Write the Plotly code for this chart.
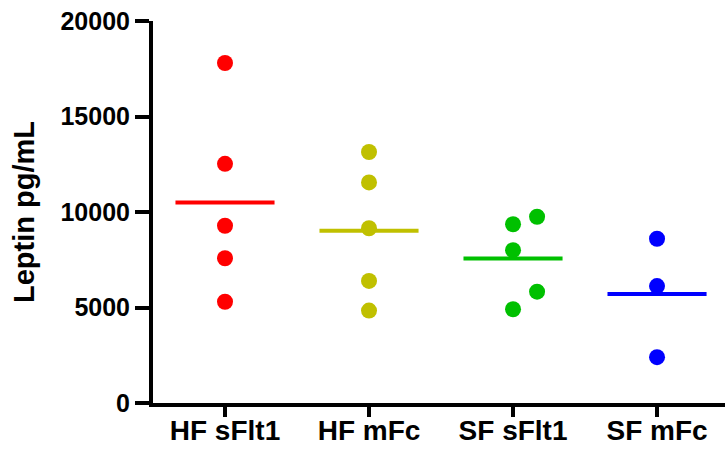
import numpy as np
import plotly.graph_objects as go

# ---- data ----
groups = ["HF sFlt1", "HF mFc", "SF sFlt1", "SF mFc"]
hf_sflt1 = [17800, 12520, 9280, 7580, 5300]
hf_mfc = [13140, 11550, 9150, 6390, 4840]
sf_sflt1 = [9750, 9360, 8000, 5830, 4910]
sf_mfc = [8600, 6120, 2400]
series = [hf_sflt1, hf_mfc, sf_sflt1, sf_mfc]
colors = ["#FF0000", "#C0C000", "#00C000", "#0000FF"]
y_ticks = [0, 5000, 10000, 15000, 20000]

FONT = "Arial, Liberation Sans, sans-serif"
DOT_SPAN = 1000        # vertical overlap threshold (data units) for dodging
DODGE = 0.167          # horizontal dodge in category units
HALF_LINE = 0.344      # half-width of the mean line


def dodge_positions(idx, vals):
    """GraphPad-like dodge: overlapping points move right."""
    order = np.argsort(vals)
    xs = np.full(len(vals), float(idx))
    last_center = None
    for k in order:
        v = vals[k]
        if last_center is not None and abs(v - last_center) < DOT_SPAN:
            xs[k] = idx + DODGE
        else:
            last_center = v
    return xs


fig = go.Figure()
for i, (vals, col) in enumerate(zip(series, colors)):
    vals = np.array(vals, dtype=float)
    xs = dodge_positions(i, vals)
    m = vals.mean()
    fig.add_trace(go.Scatter(
        x=[i - HALF_LINE, i + HALF_LINE], y=[m, m], mode="lines",
        line=dict(color=col, width=4), showlegend=False, hoverinfo="skip"))
    fig.add_trace(go.Scatter(
        x=xs, y=vals, mode="markers",
        marker=dict(color=col, size=16, line=dict(width=0)),
        showlegend=False, name=groups[i]))

fig.update_layout(
    width=725, height=449,
    margin=dict(l=153, r=0, t=21, b=46, pad=0),
    paper_bgcolor="white", plot_bgcolor="white",
    font=dict(family=FONT, color="black", weight="bold"),
)
fig.update_xaxes(
    range=[-0.5, 3.472], tickmode="array",
    tickvals=list(range(len(groups))), ticktext=groups,
    showgrid=False, zeroline=False, automargin=False,
    showline=True, linecolor="black", linewidth=4,
    ticks="outside", ticklen=10, tickwidth=4, tickcolor="black",
    ticklabelstandoff=-11,
    tickfont=dict(family=FONT, size=28, color="black", weight="bold"),
)
fig.update_yaxes(
    range=[0, 20000], tickmode="array", tickvals=y_ticks,
    ticktext=[str(v) for v in y_ticks],
    showgrid=False, zeroline=False, automargin=False,
    showline=True, linecolor="black", linewidth=4,
    ticks="outside", ticklen=14, tickwidth=4, tickcolor="black",
    tickfont=dict(family=FONT, size=25, color="black", weight="bold"),
    title=dict(text="Leptin pg/mL", standoff=18,
               font=dict(family=FONT, size=29, color="black", weight="bold")),
)

fig.write_html("out.html")
